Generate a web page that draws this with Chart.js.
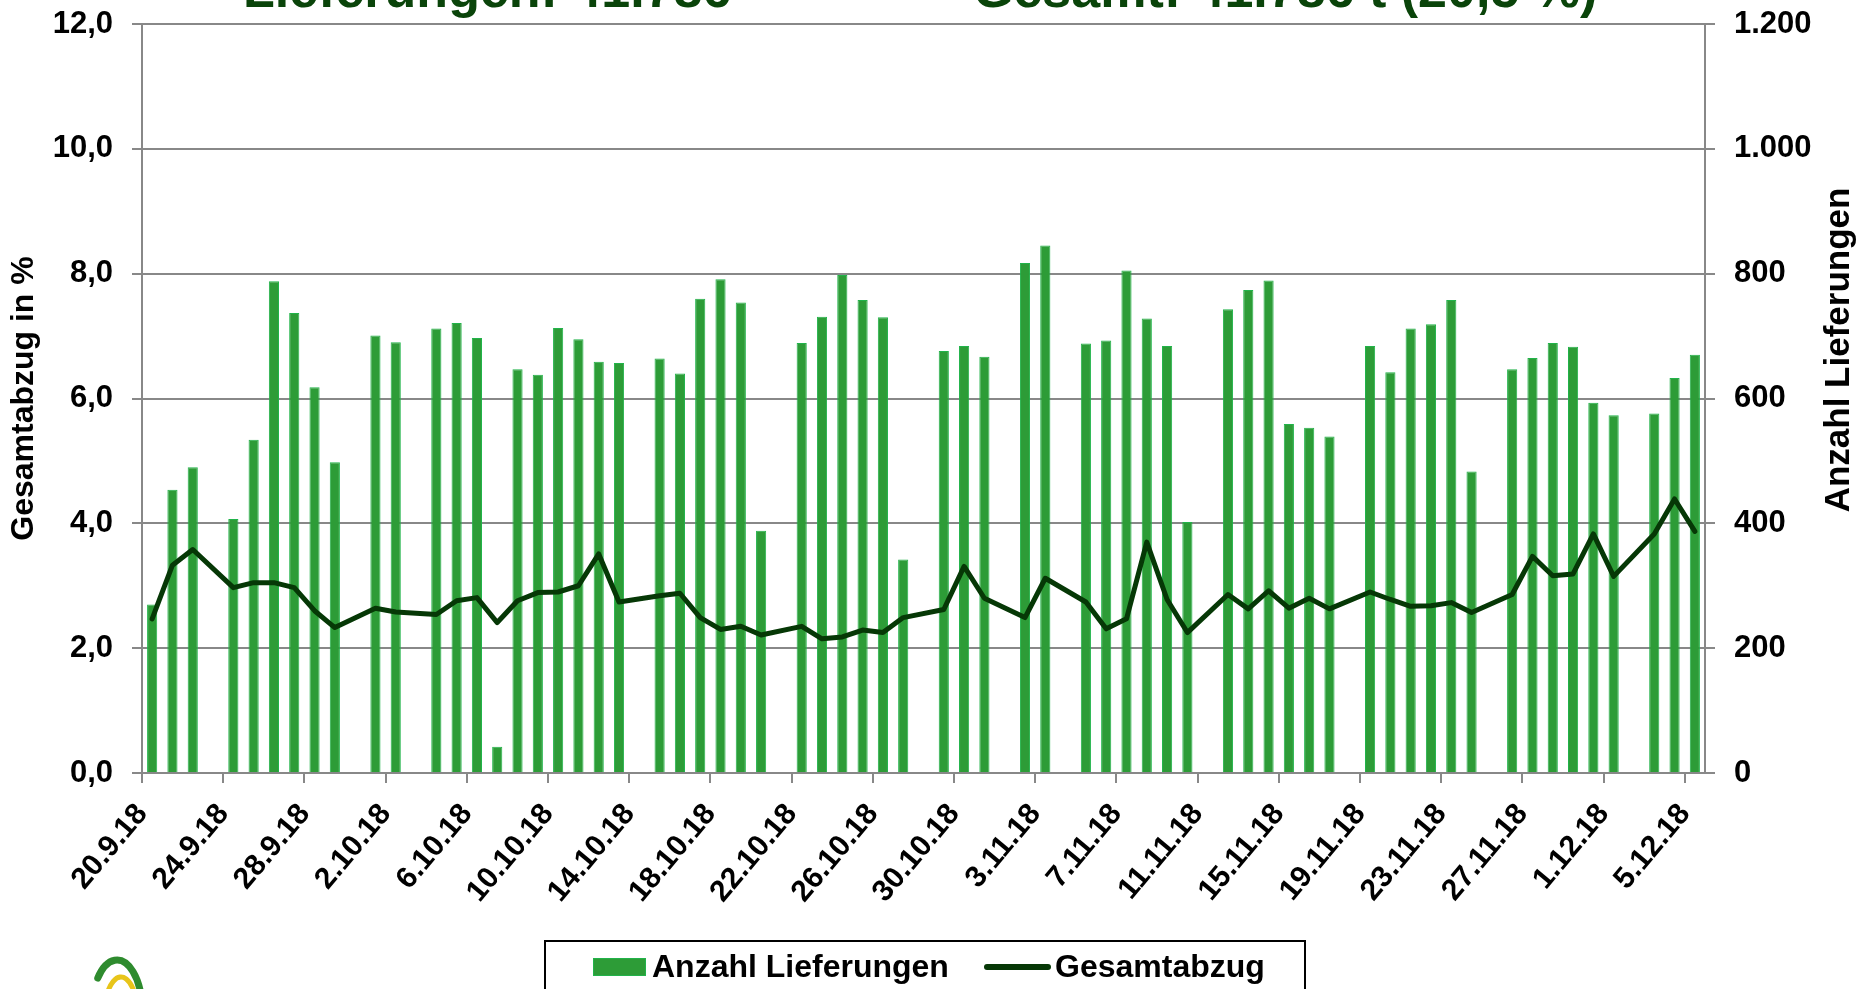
<!DOCTYPE html>
<html><head><meta charset="utf-8">
<script src="https://cdn.jsdelivr.net/npm/chart.js@4.4.0/dist/chart.umd.min.js"></script>
<style>
html,body{margin:0;padding:0;background:#fff;overflow:hidden;width:1860px;height:989px}
#wrap{position:absolute;left:0;top:0;width:1860px;height:989px}
</style></head><body>
<div id="wrap"><canvas id="c" width="1860" height="989"></canvas></div>
<script>
const categories = ["20.9.18","21.9.18","22.9.18","23.9.18","24.9.18","25.9.18","26.9.18","27.9.18","28.9.18","29.9.18","30.9.18",
"1.10.18","2.10.18","3.10.18","4.10.18","5.10.18","6.10.18","7.10.18","8.10.18","9.10.18","10.10.18","11.10.18","12.10.18","13.10.18","14.10.18","15.10.18","16.10.18","17.10.18","18.10.18","19.10.18","20.10.18","21.10.18","22.10.18","23.10.18","24.10.18","25.10.18","26.10.18","27.10.18","28.10.18","29.10.18","30.10.18","31.10.18",
"1.11.18","2.11.18","3.11.18","4.11.18","5.11.18","6.11.18","7.11.18","8.11.18","9.11.18","10.11.18","11.11.18","12.11.18","13.11.18","14.11.18","15.11.18","16.11.18","17.11.18","18.11.18","19.11.18","20.11.18","21.11.18","22.11.18","23.11.18","24.11.18","25.11.18","26.11.18","27.11.18","28.11.18","29.11.18","30.11.18",
"1.12.18","2.12.18","3.12.18","4.12.18","5.12.18"];

const deliveries = [270,454,490,null,407,534,788,737,618,498,null,
701,690,null,712,721,697,42,647,638,713,695,659,657,null,664,640,760,791,754,388,null,689,731,798,758,730,342,null,676,684,667,
null,817,845,null,688,693,805,728,684,402,null,743,774,789,559,553,539,null,684,642,712,719,758,483,null,647,665,689,683,593,
573,null,576,633,670];

const deduction = [2.47,3.33,3.58,null,2.97,3.05,3.05,2.97,2.60,2.33,null,
2.64,2.58,null,2.54,2.76,2.81,2.41,2.76,2.89,2.90,3.00,3.51,2.74,null,2.84,2.88,2.49,2.30,2.35,2.21,null,2.35,2.15,2.18,2.29,2.25,2.49,null,2.62,3.31,2.80,
null,2.49,3.12,null,2.74,2.31,2.47,3.70,2.78,2.25,null,2.86,2.63,2.92,2.64,2.80,2.63,null,2.90,2.78,2.67,2.68,2.73,2.57,null,2.86,3.47,3.16,3.19,3.83,
3.15,null,3.83,4.39,3.87];

const leftAxis = {min: 0, max: 12, step: 2};
const rightAxis = {min: 0, max: 1200, step: 200};
const labelEvery = 4;

const titleLeft = "Lieferungen: 41.786";
const titleRight = "Gesamt: 41.786 t (20,5 %)";
const legendLabels = ["Anzahl Lieferungen", "Gesamtabzug"];

const FONT = '"Liberation Sans", Arial, Helvetica, sans-serif';
const BAR = '#2d9c37', BAR_EDGE = '#21b34a', LINE = '#063806', GRID = '#888888', TITLE = '#0a440a';

Chart.defaults.font.family = FONT;
Chart.defaults.color = '#000';

function thousands(v){ return String(Math.round(v)).replace(/\B(?=(\d{3})+(?!\d))/g,'.'); }

const extras = {
  id: 'extras',
  afterDraw(chart){
    const ctx = chart.ctx;
    ctx.save();
    // Title (clipped at the top edge)
    ctx.fillStyle = TITLE;
    ctx.font = 'bold 52px ' + FONT;
    ctx.textBaseline = 'alphabetic';
    ctx.textAlign = 'left';
    ctx.fillText(titleLeft, 243, 7);
    ctx.fillText(titleRight, 973, 7);
    // Right axis title (reads bottom to top)
    ctx.fillStyle = '#000';
    ctx.font = 'bold 35px ' + FONT;
    ctx.translate(1839, 350);
    ctx.rotate(-Math.PI / 2);
    ctx.textAlign = 'center';
    ctx.textBaseline = 'middle';
    ctx.fillText('Anzahl Lieferungen', 0, 0);
    ctx.restore();

    // Legend box
    ctx.save();
    ctx.strokeStyle = '#000';
    ctx.lineWidth = 2;
    ctx.strokeRect(545, 941, 760, 80);
    ctx.fillStyle = BAR;
    ctx.fillRect(593, 958, 53, 18);
    ctx.strokeStyle = BAR_EDGE; ctx.lineWidth = 1;
    ctx.strokeRect(593.5, 958.5, 52, 17);
    ctx.fillStyle = '#000';
    ctx.font = 'bold 32px ' + FONT;
    ctx.textAlign = 'left';
    ctx.textBaseline = 'middle';
    ctx.fillText(legendLabels[0], 652, 968);
    ctx.strokeStyle = LINE; ctx.lineWidth = 6; ctx.lineCap = 'round';
    ctx.beginPath(); ctx.moveTo(987, 967); ctx.lineTo(1048, 967); ctx.stroke();
    ctx.fillText(legendLabels[1], 1055, 968);
    ctx.restore();

    // Logo fragment bottom-left (decorative swoosh)
    ctx.save();
    ctx.lineCap = 'round';
    ctx.lineWidth = 7;
    ctx.strokeStyle = '#2e8b2e';
    ctx.beginPath(); ctx.ellipse(117, 1010, 25, 50, 0, Math.PI*1.22, Math.PI*2.0); ctx.stroke();
    ctx.strokeStyle = '#e8c51a';
    ctx.lineWidth = 5;
    ctx.beginPath(); ctx.ellipse(121, 1017, 17, 40, 0, Math.PI*1.1, Math.PI*1.95); ctx.stroke();
    ctx.restore();
  }
};

new Chart(document.getElementById('c'), {
  data: {
    labels: categories,
    datasets: [
      { type: 'line', label: legendLabels[1], data: deduction, yAxisID: 'y',
        borderColor: LINE, borderWidth: 5, pointRadius: 0, spanGaps: true, tension: 0,
        borderJoinStyle: 'round', borderCapStyle: 'round', order: 0 },
      { type: 'bar', label: legendLabels[0], data: deliveries, yAxisID: 'y1',
        backgroundColor: BAR, borderColor: BAR_EDGE, borderWidth: 1,
        barPercentage: 0.5, categoryPercentage: 1, order: 1 }
    ]
  },
  options: {
    responsive: false, animation: false,
    layout: { padding: { top: 0, left: 0, right: 0, bottom: 0 } },
    plugins: { legend: { display: false }, tooltip: { enabled: false }, title: { display: false } },
    scales: {
      x: {
        type: 'category', offset: true,
        grid: { offset: true, drawOnChartArea: false, tickLength: 10, lineWidth: 2,
                color: c => (c.index % labelEvery === 0 ? GRID : 'rgba(0,0,0,0)') },
        border: { display: true, color: GRID, width: 2 },
        ticks: { autoSkip: false, maxRotation: 50, minRotation: 50, padding: 14, labelOffset: -10,
                 font: { size: 30, weight: 'bold' },
                 callback: (v, i) => (i % labelEvery === 0 ? categories[i] : '') },
        afterFit: s => { s.height = 216; s.paddingLeft = 0; s.paddingRight = 0; }
      },
      y: {
        position: 'left', min: leftAxis.min, max: leftAxis.max,
        ticks: { stepSize: leftAxis.step, padding: 19, font: { size: 31, weight: 'bold' },
                 callback: v => v.toFixed(1).replace('.', ',') },
        grid: { color: GRID, lineWidth: 2, tickLength: 10 },
        border: { color: GRID, width: 2 },
        title: { display: true, text: 'Gesamtabzug in %', font: { size: 32, weight: 'bold' }, padding: { top: 5, bottom: 0 } },
        afterFit: s => { s.width = 142; s.paddingTop = 24; s.paddingBottom = 0; }
      },
      y1: {
        position: 'right', min: rightAxis.min, max: rightAxis.max,
        ticks: { stepSize: rightAxis.step, padding: 19, font: { size: 31, weight: 'bold' },
                 callback: v => thousands(v) },
        grid: { drawOnChartArea: false, color: GRID, lineWidth: 2, tickLength: 10 },
        border: { color: GRID, width: 2 },
        afterFit: s => { s.width = 155; s.paddingTop = 24; s.paddingBottom = 0; }
      }
    }
  },
  plugins: [extras]
});
</script>
</body></html>
